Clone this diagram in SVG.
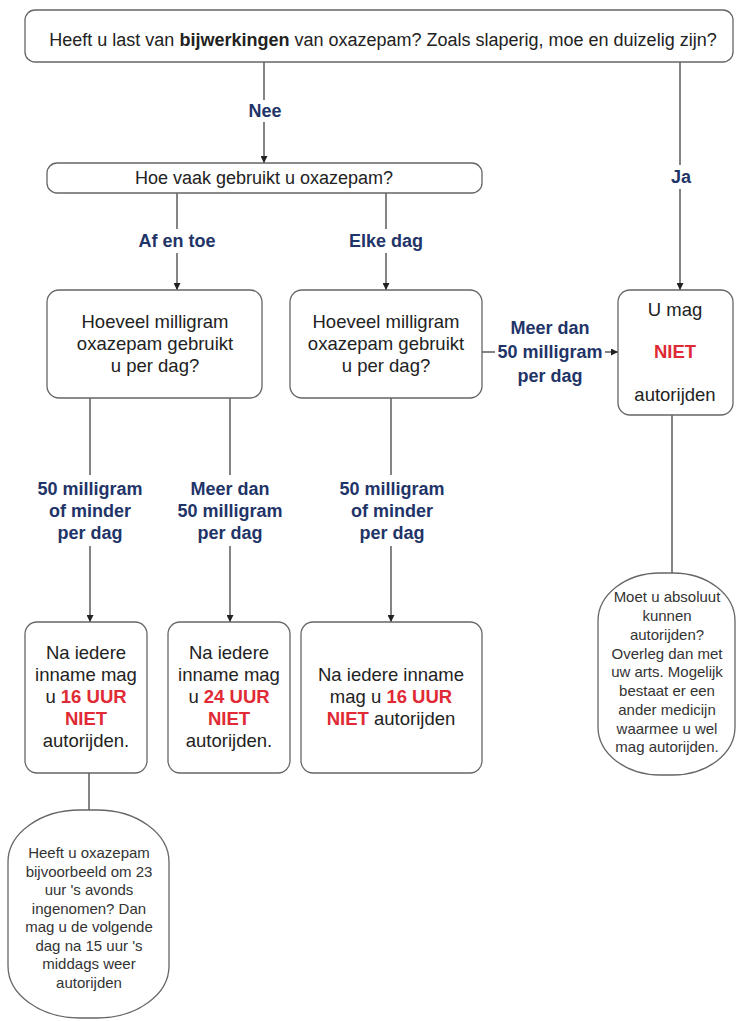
<svg xmlns="http://www.w3.org/2000/svg" width="736" height="1021" viewBox="0 0 736 1021">
<style>
.box{fill:#fff;stroke:#666;stroke-width:1.3}
.t{font-family:"Liberation Sans",Arial,sans-serif;fill:#222;text-anchor:middle}
.q{font-size:18px}
.n{font-size:18.5px}
.s{font-size:15px;fill:#333}
.lab{font-family:"Liberation Sans",Arial,sans-serif;font-weight:bold;font-size:18px;fill:#1f3468;text-anchor:middle}
.red{fill:#e02a35;font-weight:bold}
.c{stroke:#333;stroke-width:1.2;fill:none}
</style>
<defs>
<marker id="ar" viewBox="0 0 10 10" refX="10" refY="5" markerWidth="7" markerHeight="7" orient="auto" markerUnits="userSpaceOnUse">
<path d="M0,0 L10,5 L0,10 z" fill="#222"/>
</marker>
</defs>
<rect width="736" height="1021" fill="#fff"/>
<g id="connectors">
<path class="c" d="M264,62 V100"/><path class="c" d="M264,122 V163" marker-end="url(#ar)"/>
<path class="c" d="M680,62 V165"/><path class="c" d="M680,189 V290" marker-end="url(#ar)"/>
<path class="c" d="M177,193 V229"/><path class="c" d="M177,253 V290" marker-end="url(#ar)"/>
<path class="c" d="M386,193 V229"/><path class="c" d="M386,253 V290" marker-end="url(#ar)"/>
<path class="c" d="M482,352 H495"/><path class="c" d="M605,352 H618" marker-end="url(#ar)"/>
<path class="c" d="M90,398 V475"/><path class="c" d="M90,546 V622" marker-end="url(#ar)"/>
<path class="c" d="M230,398 V475"/><path class="c" d="M230,546 V622" marker-end="url(#ar)"/>
<path class="c" d="M391,398 V475"/><path class="c" d="M391,546 V622" marker-end="url(#ar)"/>
<path class="c" d="M672,415 V573"/>
<path class="c" d="M89,773 V810"/>
<text class="lab" x="265" y="117">Nee</text>
<text class="lab" x="681" y="183">Ja</text>
<text class="lab" x="177" y="247">Af en toe</text>
<text class="lab" x="386" y="247">Elke dag</text>
<text class="lab" x="550" y="334">Meer dan</text>
<text class="lab" x="550" y="358">50 milligram</text>
<text class="lab" x="550" y="382">per dag</text>
<text class="lab" x="90" y="495">50 milligram</text>
<text class="lab" x="90" y="517">of minder</text>
<text class="lab" x="90" y="539">per dag</text>
<text class="lab" x="230" y="495">Meer dan</text>
<text class="lab" x="230" y="517">50 milligram</text>
<text class="lab" x="230" y="539">per dag</text>
<text class="lab" x="392" y="495">50 milligram</text>
<text class="lab" x="392" y="517">of minder</text>
<text class="lab" x="392" y="539">per dag</text>
</g>
<g id="q1">
<rect class="box" x="25" y="10" width="708" height="52" rx="10"/>
<text class="t q" x="383" y="46">Heeft u last van <tspan font-weight="bold">bijwerkingen</tspan> van oxazepam? Zoals slaperig, moe en duizelig zijn?</text>
</g>
<g id="q2">
<rect class="box" x="47" y="163" width="435" height="30" rx="10"/>
<text class="t q" x="264" y="184">Hoe vaak gebruikt u oxazepam?</text>
</g>
<g id="q3a">
<rect class="box" x="47" y="290" width="215" height="108" rx="12"/>
<text class="t n" x="155" y="328">Hoeveel milligram</text>
<text class="t n" x="155" y="350">oxazepam gebruikt</text>
<text class="t n" x="155" y="372">u per dag?</text>
</g>
<g id="q3b">
<rect class="box" x="290" y="290" width="192" height="108" rx="12"/>
<text class="t n" x="386" y="328">Hoeveel milligram</text>
<text class="t n" x="386" y="350">oxazepam gebruikt</text>
<text class="t n" x="386" y="372">u per dag?</text>
</g>
<g id="niet">
<rect class="box" x="618" y="290" width="115" height="125" rx="12"/>
<text class="t n" x="675" y="316">U mag</text>
<text class="t n red" x="675" y="358">NIET</text>
<text class="t n" x="675" y="401">autorijden</text>
</g>
<g id="r16a">
<rect class="box" x="25" y="622" width="122" height="151" rx="12"/>
<text class="t n" x="86" y="659">Na iedere</text>
<text class="t n" x="86" y="681">inname mag</text>
<text class="t n" x="86" y="703">u <tspan class="red">16 UUR</tspan></text>
<text class="t n red" x="86" y="725">NIET</text>
<text class="t n" x="86" y="747">autorijden.</text>
</g>
<g id="r24">
<rect class="box" x="168" y="622" width="122" height="151" rx="12"/>
<text class="t n" x="229" y="659">Na iedere</text>
<text class="t n" x="229" y="681">inname mag</text>
<text class="t n" x="229" y="703">u <tspan class="red">24 UUR</tspan></text>
<text class="t n red" x="229" y="725">NIET</text>
<text class="t n" x="229" y="747">autorijden.</text>
</g>
<g id="r16b">
<rect class="box" x="301" y="622" width="181" height="151" rx="12"/>
<text class="t n" x="391" y="681">Na iedere inname</text>
<text class="t n" x="391" y="703">mag u <tspan class="red">16 UUR</tspan></text>
<text class="t n" x="391" y="725"><tspan class="red">NIET</tspan> autorijden</text>
</g>
<g id="tip-right">
<rect class="box" x="598" y="573" width="137" height="202" rx="62" ry="48"/>
<text class="t s" x="667" y="602">Moet u absoluut</text>
<text class="t s" x="667" y="621">kunnen</text>
<text class="t s" x="667" y="640">autorijden?</text>
<text class="t s" x="667" y="659">Overleg dan met</text>
<text class="t s" x="667" y="677">uw arts. Mogelijk</text>
<text class="t s" x="667" y="696">bestaat er een</text>
<text class="t s" x="667" y="715">ander medicijn</text>
<text class="t s" x="667" y="734">waarmee u wel</text>
<text class="t s" x="667" y="752">mag autorijden.</text>
</g>
<g id="tip-left">
<rect class="box" x="8" y="810" width="161" height="208" rx="72" ry="52"/>
<text class="t s" x="89" y="858">Heeft u oxazepam</text>
<text class="t s" x="89" y="877">bijvoorbeeld om 23</text>
<text class="t s" x="89" y="895">uur 's avonds</text>
<text class="t s" x="89" y="914">ingenomen? Dan</text>
<text class="t s" x="89" y="932">mag u de volgende</text>
<text class="t s" x="89" y="951">dag na 15 uur 's</text>
<text class="t s" x="89" y="969">middags weer</text>
<text class="t s" x="89" y="988">autorijden</text>
</g>
</svg>
